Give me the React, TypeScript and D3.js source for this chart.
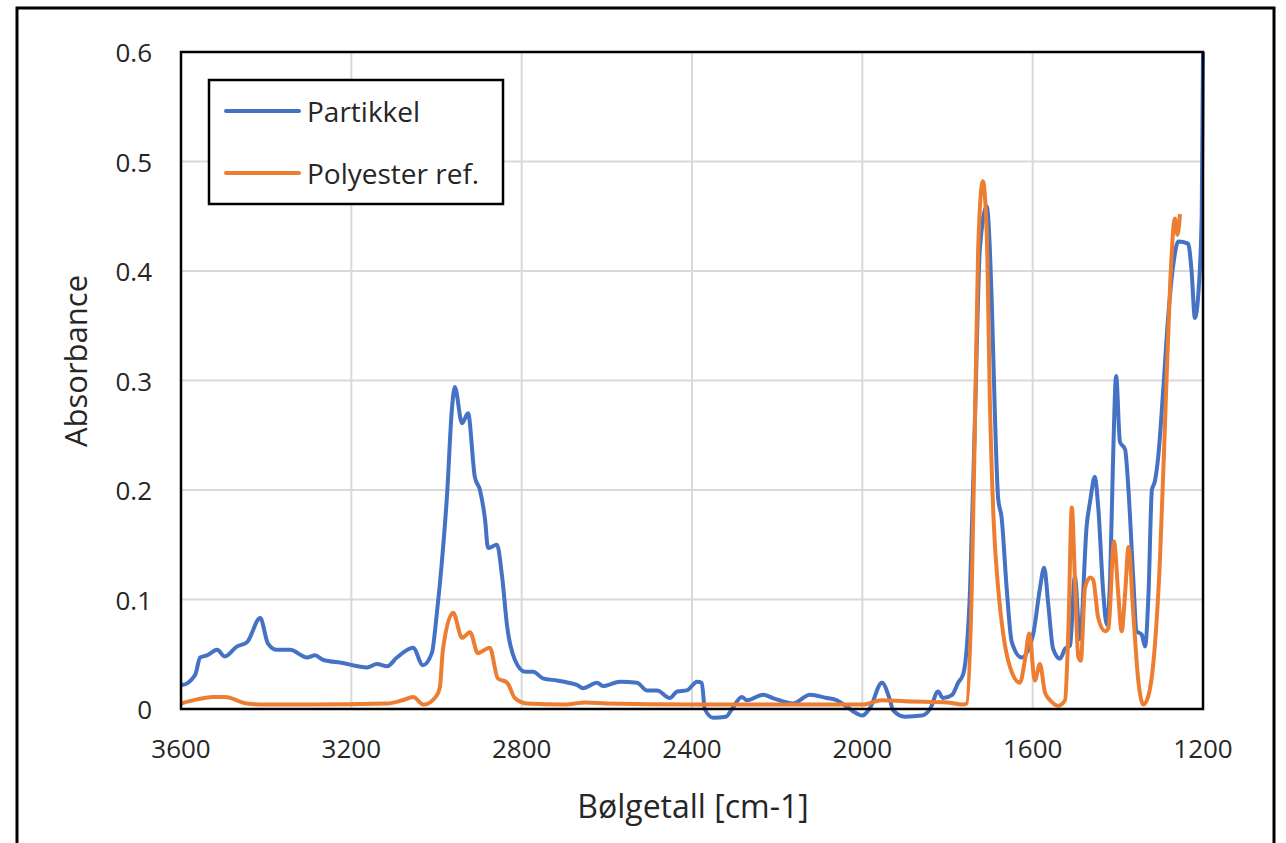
import React, { useRef, useEffect } from 'react';
import * as d3 from 'd3';

const xTicks = [3600, 3200, 2800, 2400, 2000, 1600, 1200];
const yTicks = [0, 0.1, 0.2, 0.3, 0.4, 0.5, 0.6];

const partikkelWn = [
    3600, 3598, 3567, 3555, 3539, 3515, 3497, 3469, 3445, 3414, 3396, 3375, 3344, 3304, 3285, 3267,
    3220, 3163, 3140, 3116, 3093, 3055, 3032, 3011, 2999, 2987, 2975, 2964, 2957, 2940, 2926, 2910,
    2898, 2886, 2879, 2858, 2846, 2834, 2816, 2792, 2773, 2750, 2717, 2690, 2670, 2656, 2623, 2609,
    2569, 2529, 2506, 2482, 2452, 2435, 2412, 2388, 2377, 2370, 2350, 2320, 2306, 2283, 2271, 2233,
    2210, 2163, 2123, 2083, 2060, 2036, 2022, 2000, 1982, 1954, 1935, 1928, 1900, 1860, 1841, 1822,
    1811, 1789, 1775, 1763, 1747, 1735, 1724, 1708, 1696, 1689, 1681, 1673, 1661, 1649, 1626, 1599,
    1583, 1573, 1563, 1552, 1536, 1524, 1512, 1501, 1489, 1473, 1465, 1454, 1446, 1434, 1426, 1418,
    1411, 1404, 1395, 1383, 1375, 1364, 1356, 1344, 1336, 1328, 1320, 1313, 1305, 1293, 1282, 1270,
    1258, 1235, 1227, 1219, 1211, 1203, 1200,
];
const partikkelAbs = [
    0.022, 0.022, 0.031, 0.047, 0.049, 0.054, 0.048, 0.057, 0.061, 0.083, 0.060, 0.054, 0.054, 0.047, 0.049, 0.045,
    0.042, 0.038, 0.041, 0.039, 0.047, 0.056, 0.040, 0.051, 0.088, 0.136, 0.197, 0.273, 0.294, 0.261, 0.270, 0.212,
    0.200, 0.173, 0.147, 0.150, 0.121, 0.075, 0.045, 0.034, 0.034, 0.028, 0.026, 0.024, 0.022, 0.019, 0.024, 0.021,
    0.025, 0.024, 0.017, 0.017, 0.010, 0.016, 0.017, 0.025, 0.024, 0.000, -0.008, -0.007, 0.000, 0.011, 0.008, 0.013,
    0.010, 0.005, 0.013, 0.010, 0.008, 0.002, -0.002, -0.006, 0.001, 0.024, 0.008, -0.001, -0.007, -0.006, 0.000, 0.016,
    0.010, 0.013, 0.024, 0.032, 0.110, 0.273, 0.420, 0.459, 0.371, 0.273, 0.192, 0.175, 0.110, 0.061, 0.047, 0.068,
    0.110, 0.129, 0.094, 0.055, 0.046, 0.055, 0.058, 0.121, 0.064, 0.168, 0.190, 0.212, 0.184, 0.105, 0.077, 0.121,
    0.231, 0.304, 0.244, 0.237, 0.200, 0.121, 0.071, 0.068, 0.057, 0.105, 0.200, 0.208, 0.231, 0.294, 0.357, 0.405,
    0.427, 0.425, 0.401, 0.357, 0.379, 0.452, 0.600,
];

const polyesterWn = [
    3600, 3560, 3525, 3497, 3445, 3400, 3300, 3116, 3080, 3055, 3030, 3000, 2992, 2985, 2961, 2940,
    2921, 2903, 2875, 2856, 2834, 2816, 2788, 2700, 2650, 2600, 2400, 2000, 1954, 1900, 1800, 1765,
    1755, 1743, 1735, 1728, 1717, 1708, 1700, 1692, 1681, 1669, 1653, 1630, 1618, 1608, 1595, 1583,
    1571, 1559, 1540, 1524, 1516, 1508, 1501, 1493, 1487, 1477, 1465, 1458, 1446, 1430, 1422, 1409,
    1399, 1391, 1383, 1375, 1364, 1352, 1340, 1329, 1313, 1301, 1289, 1277, 1266, 1260, 1254,
];
const polyesterAbs = [
    0.005, 0.009, 0.011, 0.011, 0.005, 0.004, 0.004, 0.005, 0.008, 0.011, 0.004, 0.012, 0.020, 0.054, 0.088, 0.065,
    0.070, 0.051, 0.056, 0.028, 0.024, 0.010, 0.005, 0.004, 0.006, 0.005, 0.004, 0.004, 0.008, 0.007, 0.006, 0.004,
    0.005, 0.110, 0.273, 0.420, 0.482, 0.436, 0.273, 0.175, 0.110, 0.068, 0.038, 0.024, 0.045, 0.069, 0.026, 0.041,
    0.015, 0.008, 0.003, 0.008, 0.074, 0.184, 0.121, 0.048, 0.044, 0.111, 0.120, 0.118, 0.083, 0.071, 0.074, 0.153,
    0.105, 0.071, 0.105, 0.148, 0.089, 0.026, 0.004, 0.011, 0.058, 0.137, 0.263, 0.389, 0.448, 0.433, 0.452,
];

const series = [
    { name: 'Partikkel', color: '#4472C4', wn: partikkelWn, abs: partikkelAbs },
    { name: 'Polyester ref.', color: '#ED7D31', wn: polyesterWn, abs: polyesterAbs },
];

const FONT = '"Open Sans", sans-serif';

const App: React.FC = () => {
    const svgRef = useRef<SVGSVGElement | null>(null);

    useEffect(() => {
        const svg = d3.select(svgRef.current);
        svg.selectAll('*').remove();

        const left = 181, right = 1203, top = 52, bottom = 709;

        const x = d3.scaleLinear().domain([3600, 1200]).range([left, right]);
        const y = d3.scaleLinear().domain([0, 0.6]).range([bottom, top]);

        // outer frame
        svg.append('rect')
            .attr('x', 17).attr('y', 8)
            .attr('width', 1257).attr('height', 860)
            .attr('fill', 'white')
            .attr('stroke', 'black')
            .attr('stroke-width', 3);

        // gridlines
        const grid = svg.append('g');
        grid.selectAll('.vgrid')
            .data(xTicks.slice(1, -1))
            .enter()
            .append('line')
            .attr('x1', d => x(d)).attr('x2', d => x(d))
            .attr('y1', top).attr('y2', bottom)
            .attr('stroke', '#d9d9d9').attr('stroke-width', 2);
        grid.selectAll('.hgrid')
            .data(yTicks.slice(1, -1))
            .enter()
            .append('line')
            .attr('x1', left).attr('x2', right)
            .attr('y1', d => y(d)).attr('y2', d => y(d))
            .attr('stroke', '#d9d9d9').attr('stroke-width', 2);

        // spectra
        const line = d3.line<[number, number]>()
            .x(d => x(d[0]))
            .y(d => y(d[1]))
            .curve(d3.curveMonotoneX);

        series.forEach(s => {
            const pts: [number, number][] = s.wn.map((w, i) => [w, s.abs[i]]);
            svg.append('path')
                .datum(pts)
                .attr('d', line)
                .attr('fill', 'none')
                .attr('stroke', s.color)
                .attr('stroke-width', 4)
                .attr('stroke-linejoin', 'round');
        });

        // plot frame
        svg.append('rect')
            .attr('x', left).attr('y', top)
            .attr('width', right - left).attr('height', bottom - top)
            .attr('fill', 'none')
            .attr('stroke', 'black')
            .attr('stroke-width', 2.5);

        // tick labels
        svg.selectAll('.xlabel')
            .data(xTicks)
            .enter()
            .append('text')
            .attr('x', d => x(d))
            .attr('y', 748)
            .attr('text-anchor', 'middle')
            .attr('dominant-baseline', 'central')
            .style('font-family', FONT)
            .style('font-size', '26px')
            .style('fill', '#262626')
            .text(d => d);

        svg.selectAll('.ylabel')
            .data(yTicks)
            .enter()
            .append('text')
            .attr('x', 152)
            .attr('y', d => y(d))
            .attr('text-anchor', 'end')
            .attr('dominant-baseline', 'central')
            .style('font-family', FONT)
            .style('font-size', '26px')
            .style('fill', '#262626')
            .text(d => (d === 0 ? '0' : d.toFixed(1)));

        // axis titles
        svg.append('text')
            .attr('x', 693).attr('y', 805)
            .attr('text-anchor', 'middle')
            .attr('dominant-baseline', 'central')
            .style('font-family', FONT)
            .style('font-size', '32px')
            .style('fill', '#262626')
            .text('Bølgetall [cm-1]');

        svg.append('text')
            .attr('transform', 'translate(75,361) rotate(-90)')
            .attr('text-anchor', 'middle')
            .attr('dominant-baseline', 'central')
            .style('font-family', FONT)
            .style('font-size', '31px')
            .style('fill', '#262626')
            .text('Absorbance');

        // legend
        svg.append('rect')
            .attr('x', 209).attr('y', 80)
            .attr('width', 294).attr('height', 124)
            .attr('fill', 'white')
            .attr('stroke', 'black')
            .attr('stroke-width', 2.5);

        series.forEach((s, i) => {
            const ly = 111 + i * 62;
            svg.append('line')
                .attr('x1', 226).attr('x2', 299)
                .attr('y1', ly).attr('y2', ly)
                .attr('stroke', s.color)
                .attr('stroke-width', 4)
                .attr('stroke-linecap', 'round');
            svg.append('text')
                .attr('x', 307).attr('y', ly)
                .attr('dominant-baseline', 'central')
                .style('font-family', FONT)
                .style('font-size', '28px')
                .style('fill', '#262626')
                .text(s.name);
        });
    }, []);

    return (
        <svg
            ref={svgRef}
            width={1286}
            height={843}
            style={{ position: 'absolute', left: 0, top: 0, background: 'white' }}
        ></svg>
    );
};

export default App;
